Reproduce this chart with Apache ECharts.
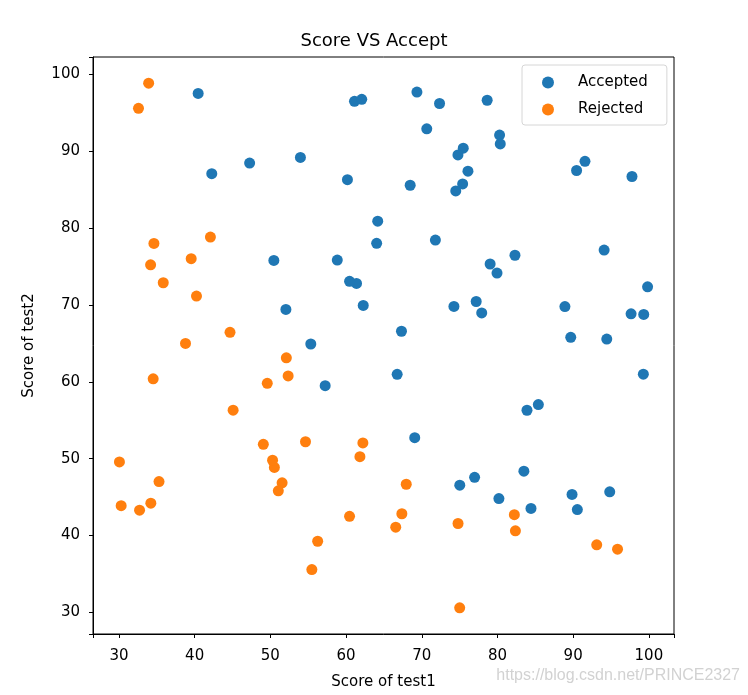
<!DOCTYPE html>
<html>
<head>
<meta charset="utf-8">
<script src="https://cdn.jsdelivr.net/npm/echarts@6/dist/echarts.min.js"></script>
<style>
  html, body { margin: 0; padding: 0; background: #fff; }
  #main { width: 748px; height: 695px; }
</style>
</head>
<body>
<div id="main"></div>
<script>
// scores of admitted students
var acceptedX = [60.18, 79.03, 61.11, 75.02, 76.10, 84.43, 82.31, 69.36, 53.97, 69.07,
  70.66, 76.98, 89.68, 77.92, 62.27, 80.19, 61.38, 85.40, 52.05, 64.18,
  83.90, 94.44, 77.19, 97.77, 62.07, 91.56, 79.94, 99.27, 90.55, 97.65,
  74.25, 71.80, 75.40, 40.46, 80.28, 66.75, 64.04, 72.35, 60.46, 58.84,
  99.83, 47.26, 50.46, 88.91, 94.83, 67.32, 57.24, 80.37, 68.47, 75.48,
  78.64, 94.09, 90.45, 74.49, 89.85, 83.49, 42.26, 99.32, 55.34, 74.78];
var acceptedY = [86.31, 75.34, 96.51, 46.55, 87.42, 43.53, 76.48, 97.72, 89.21, 52.74,
  92.93, 47.58, 65.80, 68.97, 69.95, 44.82, 72.81, 57.05, 69.43, 80.91,
  56.31, 65.57, 70.46, 86.73, 96.77, 88.70, 74.16, 61.00, 43.39, 68.86,
  69.82, 78.45, 85.76, 97.54, 92.12, 60.99, 78.03, 96.23, 73.09, 75.86,
  72.37, 88.48, 75.81, 69.80, 45.69, 66.59, 59.51, 90.96, 85.59, 90.42,
  96.65, 77.16, 87.51, 84.85, 45.36, 48.38, 87.10, 68.78, 64.93, 89.53];

// scores of rejected students
var rejectedX = [34.62, 30.29, 35.85, 45.08, 95.86, 75.01, 39.54, 67.95, 67.37, 50.53,
  34.21, 93.11, 61.83, 38.79, 52.11, 40.24, 54.64, 33.92, 74.79, 34.18,
  51.55, 82.37, 51.05, 62.22, 34.52, 50.29, 49.59, 32.58, 35.29, 56.25,
  30.06, 44.67, 66.56, 49.07, 32.72, 60.46, 82.23, 42.08, 52.35, 55.48];
var rejectedY = [78.02, 43.89, 72.90, 56.32, 38.23, 30.60, 76.04, 46.68, 42.84, 48.86,
  44.21, 38.80, 50.26, 65.00, 63.13, 71.17, 52.21, 98.87, 41.57, 75.24,
  46.86, 40.62, 45.82, 52.06, 60.40, 49.80, 59.81, 95.60, 47.02, 39.26,
  49.59, 66.45, 41.09, 51.88, 43.31, 42.51, 42.72, 78.84, 60.77, 35.57];

var seriesNames = ['Accepted', 'Rejected'];
var colors = ['#1f77b4', '#ff7f0e'];

function pairs(xs, ys) {
  var out = [];
  for (var i = 0; i < xs.length; i++) {
    out.push([xs[i], ys[i]]);
  }
  return out;
}

var font = 'DejaVu Sans';
var chart = echarts.init(document.getElementById('main'), null, { renderer: 'canvas' });

function axisCommon() {
  return {
    type: 'value',
    splitNumber: 8,
    splitLine: { show: false },
    axisLine: { show: true, lineStyle: { color: '#000', width: 1 } },
    axisTick: { show: true, inside: false, length: 4, lineStyle: { color: '#000' } },
    axisLabel: {
      color: '#000',
      fontFamily: font,
      fontSize: 15,
      formatter: function (v) {
        return Math.abs(v % 10) < 1e-6 ? String(v) : '';
      }
    },
    nameTextStyle: { color: '#000', fontFamily: font, fontSize: 15 }
  };
}

var xAxis = axisCommon();
xAxis.min = 26.57;
xAxis.max = 103.32;
xAxis.name = 'Score of test1';
xAxis.nameLocation = 'middle';
xAxis.nameGap = 41;
xAxis.axisLabel.margin = 15;

var yAxis = axisCommon();
yAxis.min = 27.19;
yAxis.max = 102.28;
yAxis.name = 'Score of test2';
yAxis.nameLocation = 'middle';
yAxis.nameGap = 56;
yAxis.axisLabel.margin = 13;

var option = {
  animation: false,
  backgroundColor: '#fff',
  color: colors,
  title: {
    text: 'Score VS Accept',
    left: 'center',
    top: 27,
    textStyle: { fontFamily: font, fontSize: 18, fontWeight: 'normal', color: '#000' }
  },
  grid: {
    left: 93,
    right: 74,
    top: 57,
    bottom: 60,
    show: true,
    borderColor: '#000',
    borderWidth: 1,
    backgroundColor: 'transparent'
  },
  legend: {
    orient: 'vertical',
    left: 522,
    top: 65,
    padding: [10, 19, 8, 20],
    itemGap: 12,
    itemWidth: 30,
    itemHeight: 12,
    icon: 'circle',
    borderColor: '#d6d6d6',
    borderWidth: 1,
    borderRadius: 3,
    backgroundColor: '#fff',
    textStyle: { fontFamily: font, fontSize: 15, color: '#000', padding: [0, 0, 0, 10] },
    data: seriesNames
  },
  xAxis: xAxis,
  yAxis: yAxis,
  graphic: [{
    type: 'text',
    right: 8,
    top: 668,
    style: {
      text: 'https://blog.csdn.net/PRINCE2327',
      fill: '#d2d2d2',
      font: '16px "Liberation Sans", Arial, sans-serif'
    }
  }],
  series: [{
    name: seriesNames[0],
    type: 'scatter',
    symbolSize: 11,
    itemStyle: { opacity: 1 },
    data: pairs(acceptedX, acceptedY)
  }, {
    name: seriesNames[1],
    type: 'scatter',
    symbolSize: 11,
    itemStyle: { opacity: 1 },
    data: pairs(rejectedX, rejectedY)
  }]
};

chart.setOption(option);
</script>
</body>
</html>
